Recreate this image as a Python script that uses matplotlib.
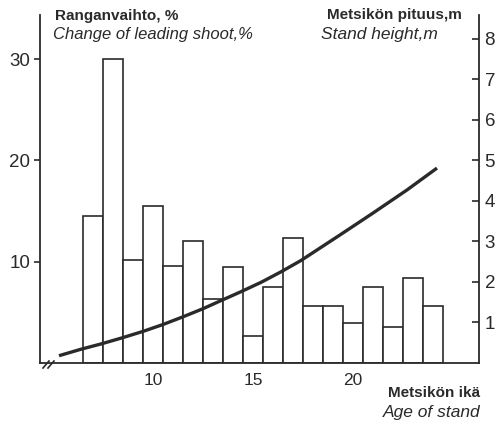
import matplotlib
matplotlib.use("Agg")
import matplotlib.pyplot as plt

# Leading shoot change (%) by stand age
ages = [7, 8, 9, 10, 11, 12, 13, 14, 15, 16, 17, 18, 19, 20, 21, 22, 23, 24]
shoot_change = [14.5, 30.0, 10.2, 15.5, 9.6, 12.0, 6.3, 9.5, 2.7, 7.5,
                12.3, 5.6, 5.6, 3.9, 7.5, 3.6, 8.4, 5.6]

# Stand height (m) curve
height_age = [5.3, 6.4, 7.4, 8.45, 9.5, 10.5, 11.5, 12.5, 13.4, 14.4,
              15.4, 16.4, 17.4, 19.35, 21.0, 22.7, 24.2]
stand_height = [0.18, 0.34, 0.47, 0.62, 0.78, 0.95, 1.14, 1.34, 1.54, 1.76,
                1.99, 2.25, 2.53, 3.16, 3.70, 4.27, 4.81]

left_ticks = [10, 20, 30]
right_ticks = [1, 2, 3, 4, 5, 6, 7, 8]
x_ticks = [10, 15, 20]

plt.rcParams["font.family"] = ["Liberation Sans", "DejaVu Sans"]
ink = "#2a2a2a"

W, H = 502, 422
fig = plt.figure(figsize=(W / 100, H / 100), dpi=100)
ax = fig.add_axes([40 / W, (H - 363) / H, 439 / W, 348 / H])
ax2 = ax.twinx()

ax.bar(ages, shoot_change, width=1.0, facecolor="white", edgecolor=ink, linewidth=1.2)
ax2.plot(height_age, stand_height, color=ink, linewidth=2.4,
         solid_capstyle="butt", solid_joinstyle="round")

ax.set_xlim(4.35, 26.3)
ax.set_ylim(0, 34.35)
ax2.set_ylim(0, 34.35 / 4)

ax.set_xticks(x_ticks)
ax.set_yticks(left_ticks)
ax2.set_yticks(right_ticks)

for a in (ax, ax2):
    a.spines["top"].set_visible(False)
    for s in a.spines.values():
        s.set_color(ink)
        s.set_linewidth(1.3)
ax.spines["right"].set_visible(False)
ax2.spines["left"].set_visible(False)
ax2.spines["bottom"].set_visible(False)

ax.tick_params(axis="x", length=0, pad=7, labelsize=12.5, colors=ink)
ax.tick_params(axis="y", direction="out", length=4, width=1.2, pad=3, labelsize=13.5, colors=ink)
ax2.tick_params(axis="y", direction="in", length=5, width=1.2, pad=4, labelsize=13.5, colors=ink)

# break marks on the x axis
for dx in (0.0, 5.0):
    x0 = (43 + dx - 40) / 439
    x1 = (49 + dx - 40) / 439
    ax.plot([x0, x1], [-5 / 348, 2 / 348], transform=ax.transAxes,
            color=ink, linewidth=1.2, clip_on=False)

# axis titles
def px(x, y):
    return x / W, 1 - y / H

fig.text(*px(55, 16), "Ranganvaihto, %", fontsize=11, fontweight="bold",
         color=ink, va="center", ha="left")
fig.text(*px(53, 34), "Change of leading shoot,%", fontsize=12, style="italic",
         color=ink, va="center", ha="left")
fig.text(*px(462, 15), "Metsikön pituus,m", fontsize=11, fontweight="bold",
         color=ink, va="center", ha="right")
fig.text(*px(321, 34), "Stand height,m", fontsize=12.5, style="italic",
         color=ink, va="center", ha="left")
fig.text(*px(480, 393), "Metsikön ikä", fontsize=11, fontweight="bold",
         color=ink, va="center", ha="right")
fig.text(*px(480, 413), "Age of stand", fontsize=12.5, style="italic",
         color=ink, va="center", ha="right")

fig.savefig("out.png", dpi=100)
